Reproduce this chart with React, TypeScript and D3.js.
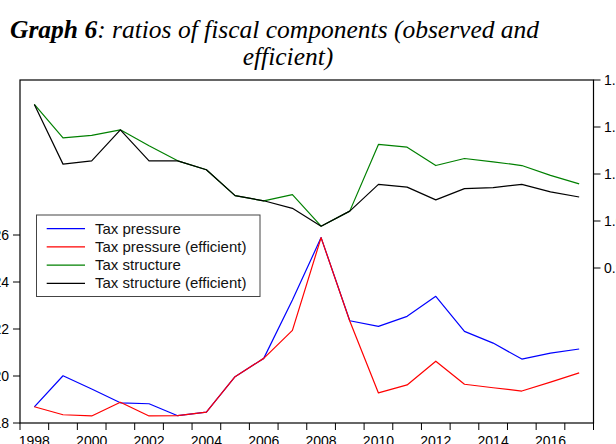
import React from "react";
import * as d3 from "d3";

const years = [1998, 1999, 2000, 2001, 2002, 2003, 2004, 2005, 2006, 2007, 2008, 2009, 2010, 2011, 2012, 2013, 2014, 2015, 2016, 2017];
const taxPressure = [18.69, 20.01, 19.45, 18.86, 18.82, 18.31, 18.46, 19.97, 20.75, 23.23, 25.89, 22.35, 22.11, 22.54, 23.39, 21.9, 21.4, 20.72, 20.97, 21.15];
const taxPressureEff = [18.69, 18.35, 18.3, 18.88, 18.3, 18.31, 18.46, 19.97, 20.75, 21.94, 25.89, 22.34, 19.28, 19.62, 20.63, 19.65, 19.5, 19.36, 19.74, 20.13];
const taxStructure = [1.248, 1.177, 1.182, 1.194, 1.16, 1.128, 1.109, 1.054, 1.043, 1.056, 0.989, 1.021, 1.163, 1.157, 1.118, 1.133, 1.126, 1.118, 1.097, 1.079];
const taxStructureEff = [1.248, 1.121, 1.128, 1.194, 1.128, 1.128, 1.109, 1.054, 1.043, 1.027, 0.989, 1.021, 1.078, 1.072, 1.045, 1.069, 1.071, 1.078, 1.062, 1.051];

const leftTicks = [18, 20, 22, 24, 26];
const rightTicks = [0.9, 1.0, 1.1, 1.2, 1.3];
const xLabelYears = [1998, 2000, 2002, 2004, 2006, 2008, 2010, 2012, 2014, 2016];
const legendNames = ["Tax pressure", "Tax pressure (efficient)", "Tax structure", "Tax structure (efficient)"];
const legendColors = ["#0000ff", "#ff0000", "#008000", "#000000"];

const W = 616;
const H = 444;
const L = 20;
const R = 593.5;
const T = 80;
const B = 423;

export default function App() {
  const x = d3.scaleLinear().domain([1997.5, 2017.5]).range([L, R]);
  const yL = d3.scaleLinear().domain([18, 18 + (B - T) / 23.5]).range([B, T]);
  const yR = d3.scaleLinear().domain([1.3 - (B - T) / 470, 1.3]).range([B, T]);

  const lineL = d3.line<number>().x((_, i) => x(years[i])).y((d) => yL(d));
  const lineR = d3.line<number>().x((_, i) => x(years[i])).y((d) => yR(d));

  const boundaryTicks = years.slice(0, -1).map((yr) => yr + 0.5);
  const fmtR = d3.format(".1f");

  const series = [
    { d: lineL(taxPressure), c: legendColors[0] },
    { d: lineR(taxStructure), c: legendColors[2] },
    { d: lineR(taxStructureEff), c: legendColors[3] },
    { d: lineL(taxPressureEff), c: legendColors[1] },
  ];

  const lgX = 36.5, lgY = 215, lgW = 223.5, lgH = 81.5;

  return (
    <svg
      width={W}
      height={H}
      style={{ position: "absolute", left: 0, top: 0, background: "#fff" }}
      fontFamily="'Liberation Sans', Arial, sans-serif"
    >
      <rect x={0} y={0} width={W} height={H} fill="#fff" />
      {/* Title */}
      <text x={10} y={38} fontFamily="'Liberation Serif', 'Times New Roman', serif" fontSize={25.5} fontStyle="italic" fill="#000">
        <tspan fontWeight="bold">Graph 6</tspan>
        <tspan>: ratios of fiscal components (observed and</tspan>
      </text>
      <text x={288} y={65} textAnchor="middle" fontFamily="'Liberation Serif', 'Times New Roman', serif" fontSize={25.5} fontStyle="italic" fill="#000">
        efficient)
      </text>

      {/* Series */}
      {series.map((s, i) => (
        <path key={i} d={s.d || ""} fill="none" stroke={s.c} strokeWidth={1.2} strokeLinejoin="round" />
      ))}

      {/* Frame */}
      <rect x={L} y={T} width={R - L} height={B - T} fill="none" stroke="#000" strokeWidth={1.2} />

      {/* Bottom ticks */}
      {boundaryTicks.map((t) => (
        <line key={t} x1={x(t)} x2={x(t)} y1={B} y2={B + 7} stroke="#000" strokeWidth={1} />
      ))}
      <line x1={L} x2={L} y1={B} y2={B + 7} stroke="#000" strokeWidth={1} />
      <line x1={R} x2={R} y1={B} y2={B + 7} stroke="#000" strokeWidth={1} />
      {xLabelYears.map((yr) => (
        <text key={yr} x={x(yr)} y={446} textAnchor="middle" fontSize={14} fill="#000">
          {yr}
        </text>
      ))}

      {/* Left axis */}
      {leftTicks.map((t) => (
        <g key={t}>
          <line x1={L - 7} x2={L} y1={yL(t)} y2={yL(t)} stroke="#000" strokeWidth={1} />
          <text x={9} y={yL(t) + 5} textAnchor="end" fontSize={14} fill="#000">
            {t}
          </text>
        </g>
      ))}

      {/* Right axis */}
      {rightTicks.map((t) => (
        <g key={t}>
          <line x1={R} x2={R + 7} y1={yR(t)} y2={yR(t)} stroke="#000" strokeWidth={1} />
          <text x={604} y={yR(t) + 5} textAnchor="start" fontSize={14} fill="#000">
            {fmtR(t)}
          </text>
        </g>
      ))}

      {/* Legend */}
      <rect x={lgX} y={lgY} width={lgW} height={lgH} fill="#fff" stroke="#444" strokeWidth={1} />
      {legendNames.map((n, i) => {
        const cy = 228.7 + i * 18.2;
        return (
          <g key={n}>
            <line x1={46.7} x2={85} y1={cy} y2={cy} stroke={legendColors[i]} strokeWidth={1.2} />
            <text x={95} y={cy + 5} fontSize={15} fill="#111">
              {n}
            </text>
          </g>
        );
      })}
    </svg>
  );
}
